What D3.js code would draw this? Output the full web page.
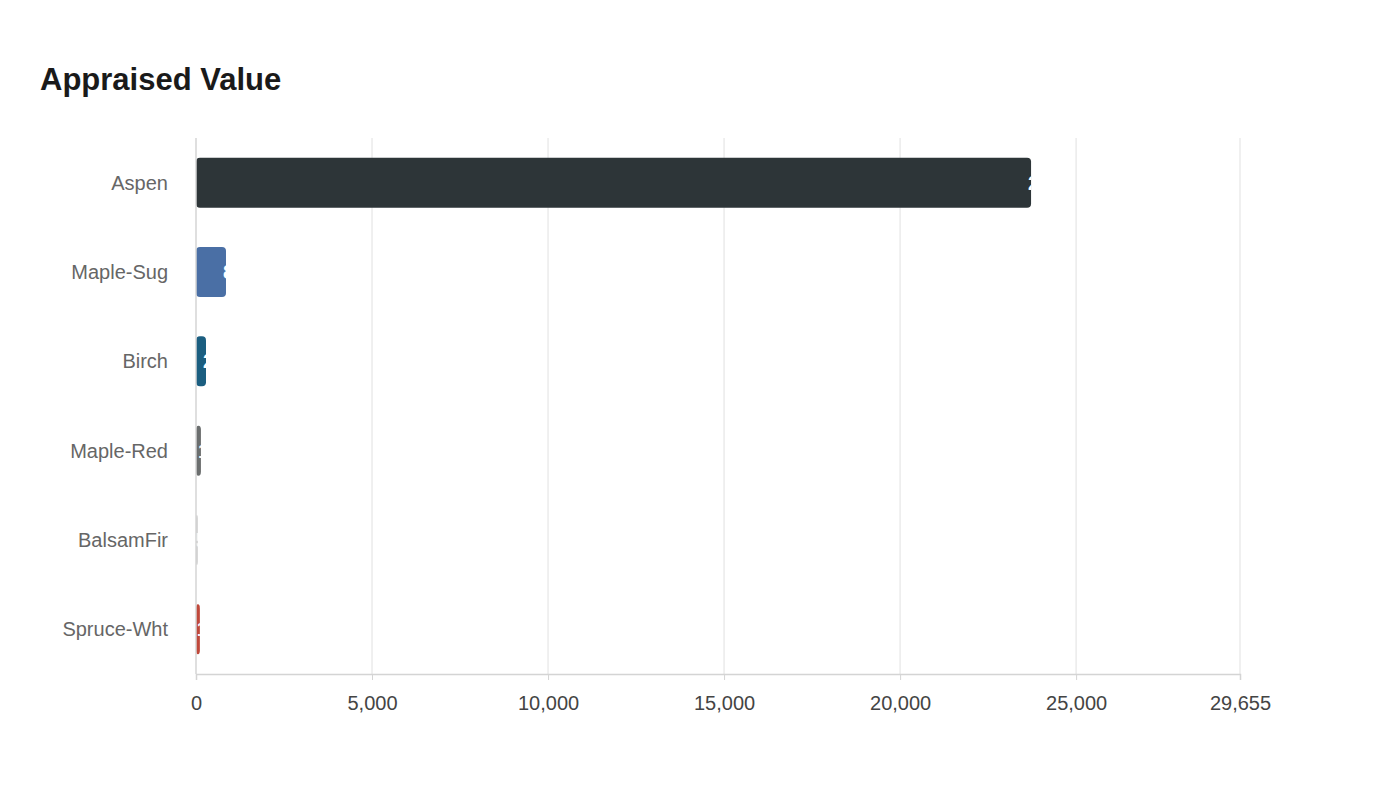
<!DOCTYPE html>
<html><head><meta charset="utf-8">
<script src="https://cdn.jsdelivr.net/npm/d3@7"></script>
<style>body{margin:0;background:#fff;font-family:"Liberation Sans",Arial,sans-serif}</style>
</head><body><div id="chart"></div>
<script>
var species = ["Aspen", "Maple-Sug", "Birch", "Maple-Red", "BalsamFir", "Spruce-Wht"];
var values = [23720, 852, 284, 140, 50, 110];
var colors = ["#2d3538", "#4a6fa5", "#1b5e80", "#6b6e6e", "#cccccc", "#c0483a"];
var tickValues = [0, 5000, 10000, 15000, 20000, 25000, 29655];

var width = 1400, height = 800;
var margin = {top: 138, left: 196, right: 160, bottom: 126};

var svg = d3.select("#chart").append("svg").attr("width", width).attr("height", height);

svg.append("text").attr("x", 40).attr("y", 90)
    .attr("font-size", 31).attr("font-weight", "bold").attr("fill", "#1a1a1a")
    .text("Appraised Value");

var x = d3.scaleLinear().domain([0, 29655]).range([margin.left, width - margin.right]);
var y = d3.scaleBand().domain(species).range([margin.top, height - margin.bottom]).paddingInner(0.44).paddingOuter(0.22);

// gridlines
svg.selectAll(".grid").data(tickValues.slice(1)).enter().append("line")
    .attr("x1", d => x(d)).attr("x2", d => x(d))
    .attr("y1", margin.top).attr("y2", height - margin.bottom)
    .attr("stroke", "#ebebeb").attr("stroke-width", 1.5);

var xAxis = svg.append("g").attr("transform", "translate(0," + (height - margin.bottom) + ")")
    .call(d3.axisBottom(x).tickValues(tickValues).tickFormat(d3.format(",")).tickSize(6).tickPadding(16));
xAxis.select(".domain").attr("stroke", "#d4d4d4").attr("stroke-width", 1.5);
xAxis.selectAll(".tick line").attr("stroke", "#d4d4d4");
xAxis.selectAll("text").attr("font-size", 20).attr("fill", "#444").attr("font-family", "Liberation Sans, Arial, sans-serif");

// y labels
svg.selectAll(".ylab").data(species).enter().append("text")
    .attr("x", margin.left - 28).attr("y", d => y(d) + y.bandwidth() / 2)
    .attr("dy", "0.35em").attr("text-anchor", "end")
    .attr("font-size", 20).attr("fill", "#666").text(d => d);

var defs = svg.append("defs");
species.forEach(function(s, i) {
    defs.append("clipPath").attr("id", "clip" + i).append("rect")
        .attr("x", x(0)).attr("y", y(s)).attr("width", x(values[i]) - x(0)).attr("height", y.bandwidth());
});

var bars = svg.selectAll(".bar").data(species).enter().append("g");
bars.append("rect")
    .attr("x", x(0)).attr("y", d => y(d))
    .attr("width", (d, i) => x(values[i]) - x(0)).attr("height", y.bandwidth())
    .attr("rx", 4).attr("fill", (d, i) => colors[i]);
bars.append("text")
    .attr("clip-path", (d, i) => "url(#clip" + i + ")")
    .attr("x", (d, i) => x(values[i]) - 3).attr("y", d => y(d) + y.bandwidth() / 2)
    .attr("dy", "0.35em").attr("font-size", 20).attr("font-weight", "bold").attr("fill", "#fff")
    .text((d, i) => d3.format(",")(values[i]));

// y axis line
svg.append("line").attr("x1", x(0)).attr("x2", x(0))
    .attr("y1", margin.top).attr("y2", height - margin.bottom)
    .attr("stroke", "#d4d4d4").attr("stroke-width", 1.5);
</script></body></html>
